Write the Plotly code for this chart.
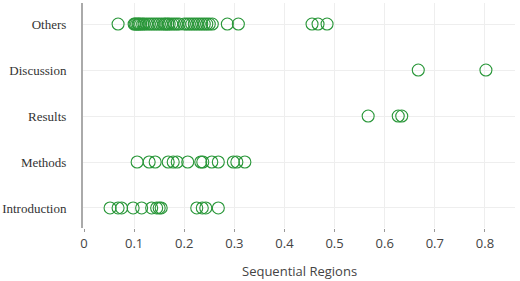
import plotly.graph_objects as go

categories = ["Introduction", "Methods", "Results", "Discussion", "Others"]

introduction = [0.052, 0.068, 0.075, 0.098, 0.115, 0.135, 0.145, 0.150, 0.154,
                0.225, 0.236, 0.243, 0.268]
methods = [0.106, 0.130, 0.142, 0.168, 0.178, 0.186, 0.207, 0.233, 0.237,
           0.255, 0.268, 0.298, 0.305, 0.321]
results = [0.567, 0.627, 0.634]
discussion = [0.667, 0.802]
others = [0.068, 0.100, 0.102, 0.105, 0.108, 0.110, 0.113, 0.117, 0.120, 0.125,
          0.130, 0.135, 0.140, 0.145, 0.150, 0.155, 0.160, 0.163, 0.167, 0.170,
          0.175, 0.180, 0.185, 0.190, 0.200, 0.205, 0.210, 0.215, 0.220, 0.225,
          0.230, 0.235, 0.240, 0.245, 0.250, 0.256, 0.286, 0.308, 0.455, 0.467,
          0.485]
x_ticks = [0, 0.1, 0.2, 0.3, 0.4, 0.5, 0.6, 0.7, 0.8]
x_tick_labels = ["0", "0.1", "0.2", "0.3", "0.4", "0.5", "0.6", "0.7", "0.8"]

series = {"Introduction": introduction, "Methods": methods, "Results": results,
          "Discussion": discussion, "Others": others}

xs, ys = [], []
for cat in categories:
    for v in series[cat]:
        xs.append(v)
        ys.append(cat)

fig = go.Figure(go.Scatter(
    x=xs, y=ys, mode="markers",
    marker=dict(symbol="circle-open", size=12, color="rgb(40,150,56)",
                line=dict(width=1.1, color="rgb(40,150,56)")),
    showlegend=False,
))

fig.update_layout(
    width=520, height=281,
    margin=dict(l=83, r=5, t=3, b=53),
    paper_bgcolor="white", plot_bgcolor="white",
    xaxis=dict(
        range=[-0.002, 0.860],
        tickvals=x_ticks, ticktext=x_tick_labels,
        showgrid=True, gridcolor="#eeeeee", gridwidth=1,
        zeroline=False, showline=False, automargin=False,
        ticks="outside", ticklen=3, tickcolor="#999999",
        tickfont=dict(family="Open Sans", size=13, color="#444444"),
    ),
    yaxis=dict(
        type="category",
        categoryorder="array", categoryarray=categories,
        range=[-0.435, 4.457],
        showgrid=True, gridcolor="#eeeeee", gridwidth=1,
        zeroline=False, automargin=False,
        showline=True, linecolor="#aaaaaa", linewidth=2,
        ticks="", ticklabelstandoff=12,
        tickfont=dict(family="Liberation Serif", size=13, color="#333333"),
    ),
    annotations=[dict(
        text="Sequential Regions", xref="paper", yref="paper",
        x=0.5, y=-0.19, xanchor="center", yanchor="middle", showarrow=False,
        font=dict(family="Open Sans", size=13, color="#444444"),
    )],
)

fig.write_html("out.html", config={"displayModeBar": False})

with open("out.html", encoding="utf-8") as f:
    html = f.read()
html = html.replace("<head>", "<head><style>html,body{margin:0;padding:0;overflow:hidden}</style>", 1)
with open("out.html", "w", encoding="utf-8") as f:
    f.write(html)
